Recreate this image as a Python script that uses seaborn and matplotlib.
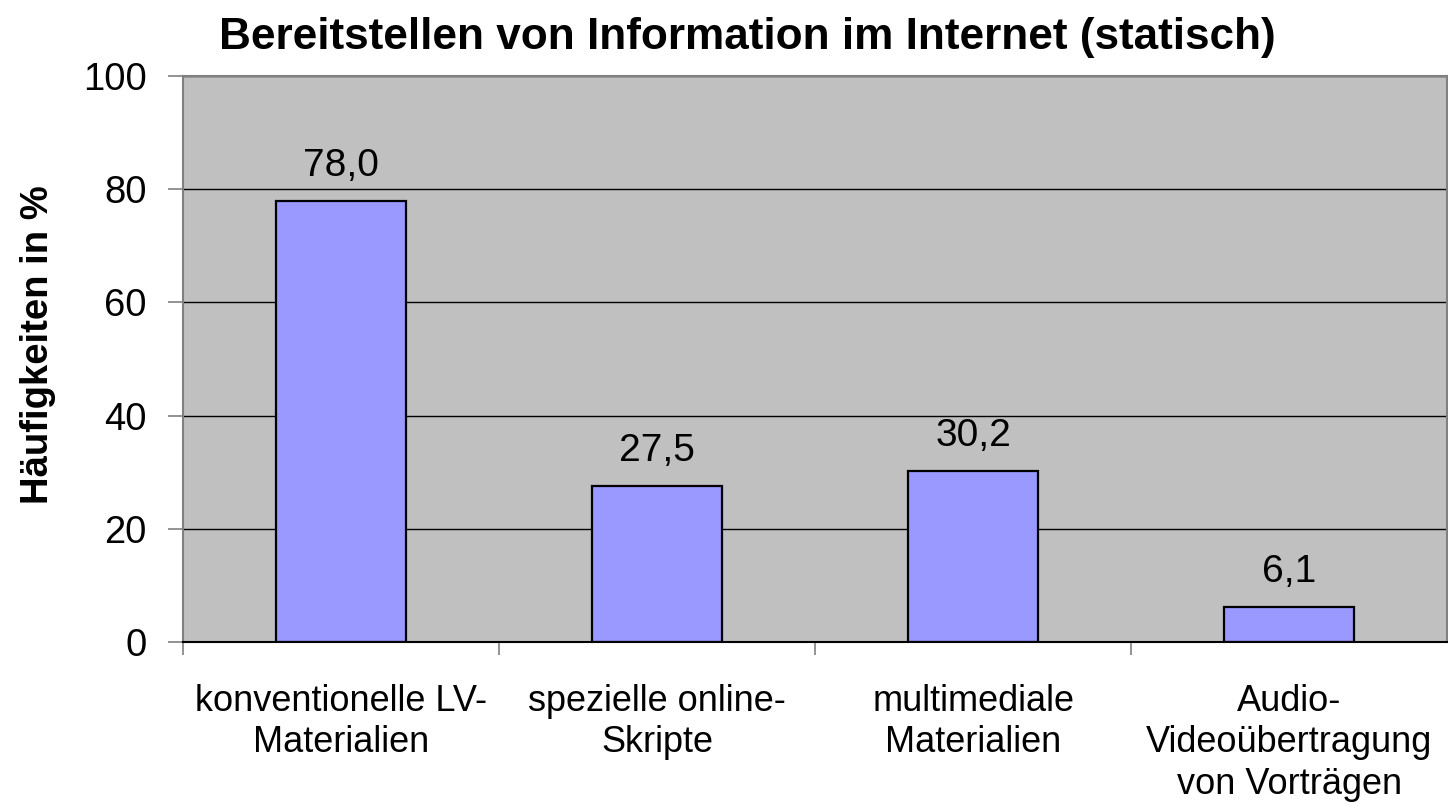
import numpy as np
import pandas as pd
import matplotlib
matplotlib.use('Agg')
import matplotlib.pyplot as plt
import seaborn as sns

# Daten
kategorien = ['konventionelle LV-\nMaterialien', 'spezielle online-\nSkripte',
              'multimediale\nMaterialien', 'Audio-\nVideoübertragung\nvon Vorträgen']
werte = [78.0, 27.5, 30.2, 6.1]
y_ticks = [0, 20, 40, 60, 80, 100]
titel = 'Bereitstellen von Information im Internet (statisch)'
y_label = 'Häufigkeiten in %'

sns.set_style('white')
plt.rcParams['font.family'] = ['Liberation Sans', 'DejaVu Sans']
plt.rcParams['text.color'] = 'black'
plt.rcParams['xtick.labelcolor'] = 'black'
plt.rcParams['ytick.labelcolor'] = 'black'

df = pd.DataFrame({'kategorie': kategorien, 'wert': werte})

fig = plt.figure(figsize=(14.48, 8.07), dpi=100)
ax = fig.add_axes([183 / 1448, 1 - 642 / 807, 1 - 183 / 1448 - 0.0005, (642 - 76) / 807])
ax.set_facecolor('#C0C0C0')

sns.barplot(data=df, x='kategorie', y='wert', ax=ax, color='#9999FF',
            width=0.41, edgecolor='black', linewidth=1.6, saturation=1)

# Werte über den Balken
for i, v in enumerate(werte):
    ax.annotate(f'{v:.1f}'.replace('.', ','), (i, v), xytext=(0, 18),
                textcoords='offset points', ha='center', va='baseline', fontsize=28)

ax.set_ylim(0, 100)
ax.set_xlim(-0.5, 3.5)
ax.set_yticks(y_ticks)
ax.set_yticklabels([str(t) for t in y_ticks], fontsize=27.5)
ax.yaxis.grid(True, color='black', linewidth=1)
ax.set_axisbelow(True)

ax.set_xticks(range(len(kategorien)))
ax.set_xticklabels(kategorien, fontsize=26, linespacing=1.25)
ax.set_xticks([-0.5, 0.5, 1.5, 2.5], minor=True)
ax.tick_params(axis='x', which='major', length=0, pad=30, bottom=True)
ax.tick_params(axis='x', which='minor', length=9, width=1.2, color='#808080',
               direction='out', bottom=True)
ax.tick_params(axis='y', length=11, width=1.2, color='#808080', direction='out', pad=15, left=True)
ax.yaxis.get_major_ticks()[0].tick1line.set_color('black')

for s in ['left', 'top', 'right']:
    ax.spines[s].set_color('#808080')
    ax.spines[s].set_linewidth(1.5)
ax.spines['bottom'].set_color('black')
ax.spines['bottom'].set_linewidth(1.5)

ax.set_xlabel('')
ax.set_ylabel('')
fig.text(38 / 1448, 1 - 345 / 807, y_label, rotation=90, fontsize=27.5, fontweight='bold',
         ha='center', va='center')
fig.text(747 / 1448, 1 - 37 / 807, titel, fontsize=31.8, fontweight='bold',
         ha='center', va='center')

plt.savefig('out.png', dpi=100)
